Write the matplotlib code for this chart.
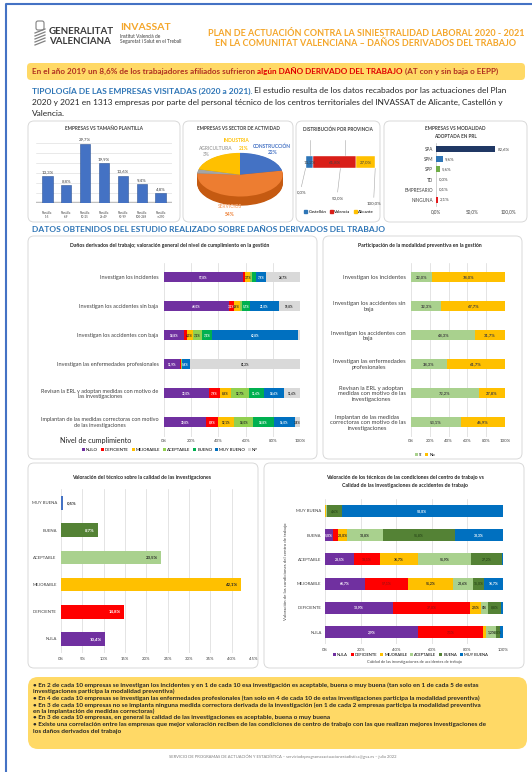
import matplotlib
matplotlib.use('Agg')
import matplotlib.pyplot as plt
from matplotlib.patches import FancyBboxPatch, Patch
import numpy as np

plt.rcParams['font.family'] = ['Lato', 'DejaVu Sans']

# ---- datos ----
plantilla_cats = ['Plantilla\n1-5', 'Plantilla\n6-9', 'Plantilla\n10-25', 'Plantilla\n26-49',
                  'Plantilla\n50-99', 'Plantilla\n100-249', 'Plantilla\n>=250']
plantilla_pct = [13.3, 8.8, 29.7, 19.9, 13.6, 9.4, 4.8]

sector_cats = ['CONSTRUCCIÓN', 'SERVICIOS', 'AGRICULTURA', 'INDUSTRIA']
sector_pct = [22, 54, 3, 21]

provincia_cats = ['Castellón', 'Valencia', 'Alicante']
provincia_pct = [11.2, 61.8, 27.0]

modalidad_cats = ['SPA', 'SPM', 'SPP', 'TD', 'EMPRESARIO', 'NINGUNA']
modalidad_pct = [82.6, 9.6, 5.6, 0.0, 0.1, 2.1]

gestion_items = ['Investigan los incidentes', 'Investigan los accidentes sin baja',
                 'Investigan los accidentes con baja', 'Investigan las enfermedades profesionales',
                 'Revisan la ERL y adoptan medidas con motivo de\nlas investigaciones',
                 'Implantan de las medidas correctoras con motivo\nde las investigaciones']
nivel_cats = ['NULO', 'DEFICIENTE', 'MEJORABLE', 'ACEPTABLE', 'BUENO', 'MUY BUENO', 'NP']
nulo = [57.8, 48.0, 14.8, 11.9, 33.0, 30.8]
deficiente = [2.0, 3.2, 2.0, 0.3, 7.9, 8.9]
mejorable = [3.7, 4.6, 4.3, 0.5, 8.6, 12.1]
aceptable = [1.5, 1.7, 7.2, 0.3, 12.7, 14.0]
bueno = [2.4, 5.7, 7.3, 0.0, 11.6, 14.8]
muy_bueno = [7.9, 21.0, 62.8, 5.8, 14.6, 16.0]
no_procede = [24.7, 15.8, 1.6, 81.2, 11.6, 3.4]

particip_items = ['Investigan los incidentes', 'Investigan los accidentes sin\nbaja',
                  'Investigan los accidentes con\nbaja', 'Investigan las enfermedades\nprofesionales',
                  'Revisan la ERL y adoptan\nmedidas con motivo de las\ninvestigaciones',
                  'Implantan de las medidas\ncorrectoras con motivo de las\ninvestigaciones']
si = [22.0, 32.3, 68.3, 38.3, 72.2, 53.1]
no = [78.0, 67.7, 31.7, 61.7, 27.8, 46.9]

calidad_cats = ['NULA', 'DEFICIENTE', 'MEJORABLE', 'ACEPTABLE', 'BUENA', 'MUY BUENA']
calidad_pct = [10.4, 14.8, 42.1, 23.5, 8.7, 0.5]

# condiciones del centro (NULA..MUY BUENA) vs calidad de la investigacion
cal_nula = [52.3, 38.3, 22.4, 16.4, 4.7, 0.0]
cal_deficiente = [36.5, 43.0, 24.3, 14.4, 2.8, 0.0]
cal_mejorable = [1.9, 6.5, 25.2, 21.5, 4.7, 0.8]
cal_aceptable = [5.5, 3.7, 11.2, 29.9, 20.6, 0.5]
cal_buena = [2.0, 7.5, 6.5, 17.2, 40.1, 8.0]
cal_muy_buena = [1.8, 1.0, 10.4, 0.6, 27.1, 90.7]
lab_nula = ['2,9%', '13,9%', '66,7%', '28,5%', '5,0%', '']
lab_deficiente = ['7,1%', '37,0%', '57,1%', '18,1%', '', '']
lab_mejorable = ['', '2,5%', '51,2%', '36,7%', '20,0%', '']
lab_aceptable = ['1,2%', '0%', '20,6%', '51,9%', '10,8%', '']
lab_buena = ['8,0%', '8,8%', '15,0%', '27,2%', '51,8%', '4,6%']
lab_muy_buena = ['', '', '16,7%', '', '33,3%', '50,0%']

conclusiones = [
    '• En 2 de cada 10 empresas se investigan los incidentes y en 1 de cada 10 esa investigación es aceptable, buena o muy buena (tan solo en 1 de cada 5 de estas',
    'investigaciones participa la modalidad preventiva)',
    '• En 4 de cada 10 empresas se investigan las enfermedades profesionales (tan solo en 4 de cada 10 de estas investigaciones participa la modalidad preventiva)',
    '• En 3 de cada 10 empresas no se implanta ninguna medida correctora derivada de la investigación (en 1 de cada 2 empresas participa la modalidad preventiva',
    'en la implantación de medidas correctoras)',
    '• En 3 de cada 10 empresas, en general la calidad de las investigaciones es aceptable, buena o muy buena',
    '• Existe una correlación entre las empresas que mejor valoración reciben de las condiciones de centro de trabajo con las que realizan mejores investigaciones de',
    'los daños derivados del trabajo',
]

W, H = 532, 772
fig = plt.figure(figsize=(W / 100, H / 100), dpi=100)
bg = fig.add_axes([0, 0, 1, 1])
bg.set_xlim(0, W)
bg.set_ylim(H, 0)
bg.axis('off')


def box(x0, y0, x1, y1):
    return [x0 / W, 1 - y1 / H, (x1 - x0) / W, (y1 - y0) / H]


def panel(x0, y0, x1, y1, fc='white', ec='#D9D9D9', r=6):
    bg.add_patch(FancyBboxPatch((x0, y0), x1 - x0, y1 - y0,
                                boxstyle=f'round,pad=0,rounding_size={r}',
                                fc=fc, ec=ec, lw=0.7))


def rich(x, y, parts, size):
    r = fig.canvas.get_renderer()
    for s, kw in parts:
        t = bg.text(x, y, s, fontsize=size, va='center', ha='left', **kw)
        x += t.get_window_extent(r).width


def top_text(x, y, s, **kw):
    # texto por encima de todos los ejes, en pixeles
    fig.text(x, y, s, transform=bg.transData, ha='center', va='center', **kw)


def pct(v):
    return f'{v:.1f}%'.replace('.', ',')


def clean(ax):
    for s in ax.spines.values():
        s.set_visible(False)
    ax.set_facecolor('none')


# marco azul
bg.plot([6, 6, W], [H, 4, 4], color='#4472C4', lw=1.5, solid_capstyle='butt')

# ---- cabecera ----
for k in range(5):
    bg.plot([35, 45], [33 + k * 3, 29 + k * 3], color='#808080', lw=0.9)
bg.add_patch(FancyBboxPatch((36, 21), 8, 9, boxstyle='round,pad=0,rounding_size=2',
                            fc='none', ec='#808080', lw=0.8))
bg.text(49, 31, 'GENERALITAT', fontsize=7, weight='bold', color='#3A3A3A', va='center')
bg.text(49, 41, 'VALENCIANA', fontsize=7, weight='bold', color='#3A3A3A', va='center')
bg.text(120, 27, 'INVASSAT', fontsize=7.5, weight='bold', color='#F4A62A', va='center')
bg.text(120, 36.5, 'Institut Valencià de', fontsize=3.4, color='#3A3A3A', va='center')
bg.text(120, 42, 'Seguretat i Salut en el Treball', fontsize=3.4, color='#3A3A3A', va='center')
bg.text(366, 33, 'PLAN DE ACTUACIÓN CONTRA LA SINIESTRALIDAD LABORAL 2020 - 2021',
        fontsize=6.5, weight='bold', color='#F4A62A', ha='center', va='center')
bg.text(366, 44, 'EN LA COMUNITAT VALENCIANA – DAÑOS DERIVADOS DEL TRABAJO',
        fontsize=6.5, weight='bold', color='#F4A62A', ha='center', va='center')

panel(27, 63, 525, 80, fc='#FFD966', ec='none', r=4)
rich(32, 71.5, [('En el año 2019 un 8,6% de los trabajadores afiliados sufrieron', dict(color='#B03020', weight='bold')),
                (' algún DAÑO DERIVADO DEL TRABAJO', dict(color='#E00000', weight='bold')),
                (' (AT con y sin baja o EEPP)', dict(color='#B03020', weight='bold'))], 5.85)

rich(32, 91, [('TIPOLOGÍA DE LAS EMPRESAS VISITADAS (2020 a 2021).', dict(color='#2E75B6', weight='bold')),
              (' El estudio resulta de los datos recabados por las actuaciones del Plan', dict(color='#262626'))], 6.05)
bg.text(32, 102, '2020 y 2021 en 1313 empresas por parte del personal técnico de los centros territoriales del INVASSAT de Alicante, Castellón y',
        fontsize=6.05, color='#262626', va='center')
bg.text(32, 113, 'Valencia.', fontsize=6.05, color='#262626', va='center')

# ---- fila superior ----
panel(28, 121, 180, 222)
panel(183, 121, 293, 222)
panel(296, 121, 380, 222)
panel(384, 121, 527, 222)

bg.text(104, 129, 'EMPRESAS VS TAMAÑO PLANTILLA', fontsize=3.3, weight='bold', color='#404040', ha='center', va='center')
ax1 = fig.add_axes(box(36, 137, 172, 203))
xs = np.arange(len(plantilla_pct))
ax1.bar(xs, plantilla_pct, width=0.55, color='#4472C4', edgecolor='#2F5597', lw=0.4, zorder=3)
for xi, v in zip(xs, plantilla_pct):
    ax1.text(xi, v + 1.0, pct(v), ha='center', va='bottom', fontsize=3.2, color='#404040')
ax1.set_ylim(0, 33)
ax1.set_xlim(-0.6, 6.6)
ax1.set_yticks([5, 10, 15, 20, 25, 30])
ax1.yaxis.grid(color='#D9D9D9', lw=0.4)
ax1.set_axisbelow(True)
ax1.set_xticks(xs, plantilla_cats)
ax1.tick_params(left=False, labelleft=False, bottom=False, labelsize=2.1, pad=2, colors='#404040')
ax1.axhline(0, color='#BFBFBF', lw=2.5, zorder=2)
clean(ax1)

bg.text(238, 129, 'EMPRESAS VS SECTOR DE ACTIVIDAD', fontsize=3.3, weight='bold', color='#404040', ha='center', va='center')
ax2 = fig.add_axes(box(196, 152, 284, 207))
sec_cols = ['#4472C4', '#ED7D31', '#A5A5A5', '#FFC000']
sec_dark = ['#2F5597', '#C55A11', '#7F7F7F', '#BF9000']
for k in np.linspace(-0.42, -0.02, 14):
    ax2.pie(sector_pct, colors=sec_dark, startangle=90, counterclock=False, center=(0, k), radius=1)
ax2.pie(sector_pct, colors=sec_cols, startangle=90, counterclock=False, radius=1)
ax2.set_aspect('auto')
ax2.set_xlim(-1.03, 1.03)
ax2.set_ylim(-1.48, 1.04)
top_text(237, 141, 'INDUSTRIA', fontsize=3.5, weight='bold', color='#FFC000')
top_text(244, 148, f'{sector_pct[3]}%', fontsize=3.5, weight='bold', color='#FFC000')
top_text(215, 148, 'AGRICULTURA', fontsize=3.5, weight='bold', color='#A5A5A5')
top_text(206, 155, f'{sector_pct[2]}%', fontsize=3.5, weight='bold', color='#A5A5A5')
top_text(272, 146, 'CONSTRUCCIÓN', fontsize=3.5, weight='bold', color='#4472C4')
top_text(273, 153, f'{sector_pct[0]}%', fontsize=3.5, weight='bold', color='#4472C4')
top_text(230, 207, 'SERVICIOS', fontsize=3.5, weight='bold', color='#F8B080')
top_text(230, 214, f'{sector_pct[1]}%', fontsize=3.5, weight='bold', color='#ED7D31')

bg.text(338, 129, 'DISTRIBUCIÓN POR PROVINCIA', fontsize=3.3, weight='bold', color='#404040', ha='center', va='center')
ax3 = fig.add_axes(box(300, 138, 378, 208))
prov_cols = ['#2E75B6', '#D91E18', '#FFC000']
left = 0
for v, c in zip(provincia_pct, prov_cols):
    ax3.barh(0, v, left=left, height=0.8, color=c, edgecolor='white', lw=0.3, zorder=3)
    ax3.text(left + v / 2, 0, pct(v), ha='center', va='center', fontsize=3.2, color='#404040', zorder=4)
    left += v
for i, t in enumerate([0, 50, 100]):
    ax3.plot([t + 6, t + 6], [0.4, 1.5], color='#A6A6A6', lw=0.4, zorder=1)
    ax3.plot([t, t - 6 + i * 2], [-0.4, -1.6 - i * 0.35], color='#A6A6A6', lw=0.4, zorder=1)
    ax3.text(t - 6 + i * 2, -2.0 - i * 0.35, pct(t), ha='center', va='center', fontsize=3.2, color='#404040')
ax3.set_xlim(-8, 104)
ax3.set_ylim(-3.0, 1.6)
ax3.set_xticks([])
ax3.set_yticks([])
clean(ax3)
ax3.legend(handles=[Patch(color=c, label=l) for c, l in zip(prov_cols, provincia_cats)],
           loc='center', bbox_to_anchor=(0.5, -0.06), ncol=3, fontsize=3.2, frameon=False,
           handlelength=0.7, handleheight=0.7, columnspacing=0.8, handletextpad=0.3)

bg.text(455, 129, 'EMPRESAS VS MODALIDAD', fontsize=3.3, weight='bold', color='#404040', ha='center', va='center')
bg.text(455, 136, 'ADOPTADA EN PRL', fontsize=3.3, weight='bold', color='#404040', ha='center', va='center')
ax4 = fig.add_axes(box(436, 143, 508, 206))
mod_cols = ['#203864', '#2E75B6', '#70AD47', '#843C0C', '#A5A5A5', '#E31A1C']
ym = np.arange(len(modalidad_pct))[::-1]
ax4.barh(ym, modalidad_pct, height=0.6, color=mod_cols, zorder=3)
for yi, v in zip(ym, modalidad_pct):
    ax4.text(max(v, 1) + 3, yi, pct(v), va='center', fontsize=3.2, color='#404040')
ax4.set_yticks(ym, modalidad_cats)
ax4.set_xlim(0, 100)
ax4.set_xticks([0, 50, 100], ['0,0%', '50,0%', '100,0%'])
ax4.tick_params(length=0, labelsize=3.3, pad=2, colors='#404040')
ax4.set_ylim(-0.6, 5.6)
clean(ax4)
ax4.spines['left'].set_visible(True)
ax4.spines['left'].set_color('#BFBFBF')
ax4.spines['left'].set_linewidth(0.5)

# ---- bloque central ----
bg.text(32, 229, 'DATOS OBTENIDOS DEL ESTUDIO REALIZADO SOBRE DAÑOS DERIVADOS DEL TRABAJO',
        fontsize=6.0, weight='bold', color='#2E75B6', va='center')
panel(28, 236, 317, 459)
panel(323, 236, 522, 459)

bg.text(170, 245, 'Daños derivados del trabajo; valoración general del nivel de cumplimiento en la gestión',
        fontsize=3.7, weight='bold', color='#262626', ha='center', va='center')
ax5 = fig.add_axes(box(164, 262.5, 300, 436.5))
niv_cols = ['#7030A0', '#FF0000', '#FFC000', '#92D050', '#00B050', '#0070C0', '#D9D9D9']
niv_txt = ['white', 'white', '#262626', '#262626', 'white', 'white', '#262626']
yr = np.arange(len(gestion_items))
left = np.zeros(len(yr))
for vals, c, tc, lab in zip([nulo, deficiente, mejorable, aceptable, bueno, muy_bueno, no_procede],
                            niv_cols, niv_txt, nivel_cats):
    ax5.barh(yr, vals, left=left, height=0.37, color=c, label=lab, zorder=3)
    for yi, l0, v in zip(yr, left, vals):
        if v >= 3:
            ax5.text(l0 + v / 2, yi, pct(v), ha='center', va='center', fontsize=2.2,
                     weight='bold', color=tc, zorder=4)
    left += np.array(vals)
ax5.set_ylim(5.5, -0.5)
ax5.set_xlim(0, 100)
ax5.set_yticks(yr, gestion_items)
for lbl in ax5.get_yticklabels():
    lbl.set_multialignment('center')
ax5.set_xticks([0, 20, 40, 60, 80, 100], ['0%', '20%', '40%', '60%', '80%', '100%'])
ax5.xaxis.grid(color='#D9D9D9', lw=0.5)
ax5.set_axisbelow(True)
ax5.tick_params(length=0, labelsize=4.0, colors='#404040', pad=4)
ax5.tick_params(axis='x', labelsize=3.2, pad=2)
clean(ax5)
ax5.legend(loc='center', bbox_to_anchor=(0.044, -0.075), ncol=7, fontsize=3.1, frameon=False,
           handlelength=0.7, handleheight=0.7, columnspacing=0.7, handletextpad=0.2)
bg.text(96, 440, 'Nivel de cumplimiento', fontsize=5.2, color='#262626', ha='center', va='center')

bg.text(420, 245, 'Participación de la modalidad preventiva en la gestión',
        fontsize=3.7, weight='bold', color='#262626', ha='center', va='center')
ax6 = fig.add_axes(box(411, 262.5, 505, 436.5))
ax6.barh(yr, si, height=0.37, color='#A9D18E', label='Sí', zorder=3)
ax6.barh(yr, no, left=si, height=0.37, color='#FFC000', label='No', zorder=3)
for yi, a, b in zip(yr, si, no):
    ax6.text(a / 2, yi, pct(a), ha='center', va='center', fontsize=3.0, weight='bold', color='#404040', zorder=4)
    ax6.text(a + b / 2, yi, pct(b), ha='center', va='center', fontsize=3.0, weight='bold', color='#404040', zorder=4)
ax6.set_ylim(5.5, -0.5)
ax6.set_xlim(0, 100)
ax6.set_yticks(yr, particip_items)
for lbl in ax6.get_yticklabels():
    lbl.set_multialignment('center')
ax6.set_xticks([0, 20, 40, 60, 80, 100], ['0%', '20%', '40%', '60%', '80%', '100%'])
ax6.xaxis.grid(color='#D9D9D9', lw=0.5)
ax6.set_axisbelow(True)
ax6.tick_params(length=0, labelsize=4.2, colors='#404040', pad=4)
ax6.tick_params(axis='x', labelsize=3.2, pad=2)
clean(ax6)
ax6.legend(loc='center', bbox_to_anchor=(0.15, -0.105), ncol=2, fontsize=3.1, frameon=False,
           handlelength=0.7, handleheight=0.7, columnspacing=0.7, handletextpad=0.2)

# ---- bloque inferior ----
panel(28, 463, 258, 668)
panel(264, 463, 524, 668)

bg.text(142, 478, 'Valoración del técnico sobre la calidad de las investigaciones',
        fontsize=3.7, weight='bold', color='#262626', ha='center', va='center')
ax7 = fig.add_axes(box(61, 489.4, 253, 652.6))
cal_cols = ['#7030A0', '#FF0000', '#FFC000', '#A9D18E', '#548235', '#4472C4']
cal_txt = ['white', 'white', '#262626', '#262626', 'white', '#262626']
yc = np.arange(len(calidad_pct))
ax7.barh(yc, calidad_pct, height=0.5, color=cal_cols, zorder=3)
for yi, v, tc in zip(yc, calidad_pct, cal_txt):
    if v < 2:
        ax7.text(v + 0.8, yi, pct(v), ha='left', va='center', fontsize=3.2, weight='bold', color=tc)
    else:
        ax7.text(v - 0.8, yi, pct(v), ha='right', va='center', fontsize=3.2, weight='bold', color=tc, zorder=4)
ax7.set_ylim(-0.5, 5.5)
ax7.set_xlim(0, 45)
ax7.set_yticks(yc, calidad_cats)
ax7.set_xticks(range(0, 50, 5), [f'{t}%' for t in range(0, 50, 5)])
ax7.xaxis.grid(color='#D9D9D9', lw=0.5)
ax7.set_axisbelow(True)
ax7.tick_params(length=0, labelsize=3.1, colors='#404040', pad=3)
clean(ax7)

bg.text(405, 478, 'Valoración de los técnicos de las condiciones del centro de trabajo vs',
        fontsize=3.7, weight='bold', color='#262626', ha='center', va='center')
bg.text(405, 486, 'Calidad de las investigaciones de accidentes de trabajo',
        fontsize=3.7, weight='bold', color='#262626', ha='center', va='center')
ax8 = fig.add_axes(box(325, 498.9, 503, 644.1))
cond_cols = ['#7030A0', '#FF0000', '#FFC000', '#A9D18E', '#548235', '#0070C0']
cond_txt = ['white', '#A01010', '#262626', '#262626', '#2A4A1A', 'white']
left = np.zeros(len(calidad_cats))
for vals, labs, c, tc, lab in zip([cal_nula, cal_deficiente, cal_mejorable, cal_aceptable, cal_buena, cal_muy_buena],
                                  [lab_nula, lab_deficiente, lab_mejorable, lab_aceptable, lab_buena, lab_muy_buena],
                                  cond_cols, cond_txt, calidad_cats):
    ax8.barh(yc, vals, left=left, height=0.5, color=c, label=lab, zorder=3)
    for yi, l0, v, s in zip(yc, left, vals, labs):
        if s:
            ax8.text(l0 + v / 2, yi, s, ha='center', va='center', fontsize=2.5, weight='bold', color=tc, zorder=4)
    left += np.array(vals)
ax8.set_ylim(-0.5, 5.5)
ax8.set_xlim(0, 100)
ax8.set_yticks(yc, calidad_cats)
ax8.set_xticks([0, 20, 40, 60, 80, 100], ['0%', '20%', '40%', '60%', '80%', '100%'])
ax8.xaxis.grid(color='#D9D9D9', lw=0.5)
ax8.set_axisbelow(True)
ax8.tick_params(length=0, labelsize=3.1, colors='#404040', pad=2.5)
ax8.set_ylabel('Valoración de las condiciones del centro de trabajo', fontsize=3.2, color='#404040', labelpad=6)
clean(ax8)
ax8.legend(loc='center', bbox_to_anchor=(0.48, -0.075), ncol=6, fontsize=2.9, frameon=False,
           handlelength=0.7, handleheight=0.7, columnspacing=0.8, handletextpad=0.25)
bg.text(414, 662, 'Calidad de las investigaciones de accidentes de trabajo',
        fontsize=2.9, color='#404040', ha='center', va='center')

# ---- conclusiones ----
panel(28, 677, 527, 749, fc='#FFD966', ec='none', r=10)
for i, line in enumerate(conclusiones):
    bg.text(33, 685 + i * 6.6, line, fontsize=4.6, weight='bold', color='#262626', va='center')
bg.text(283, 757, 'SERVICIO DE PROGRAMAS DE ACTUACIÓN Y ESTADÍSTICA – serviciodeprogramasactuacionestadistica@gva.es – julio 2022',
        fontsize=3.0, color='#7F7F7F', ha='center', va='center')

fig.savefig('out.png', dpi=100)
